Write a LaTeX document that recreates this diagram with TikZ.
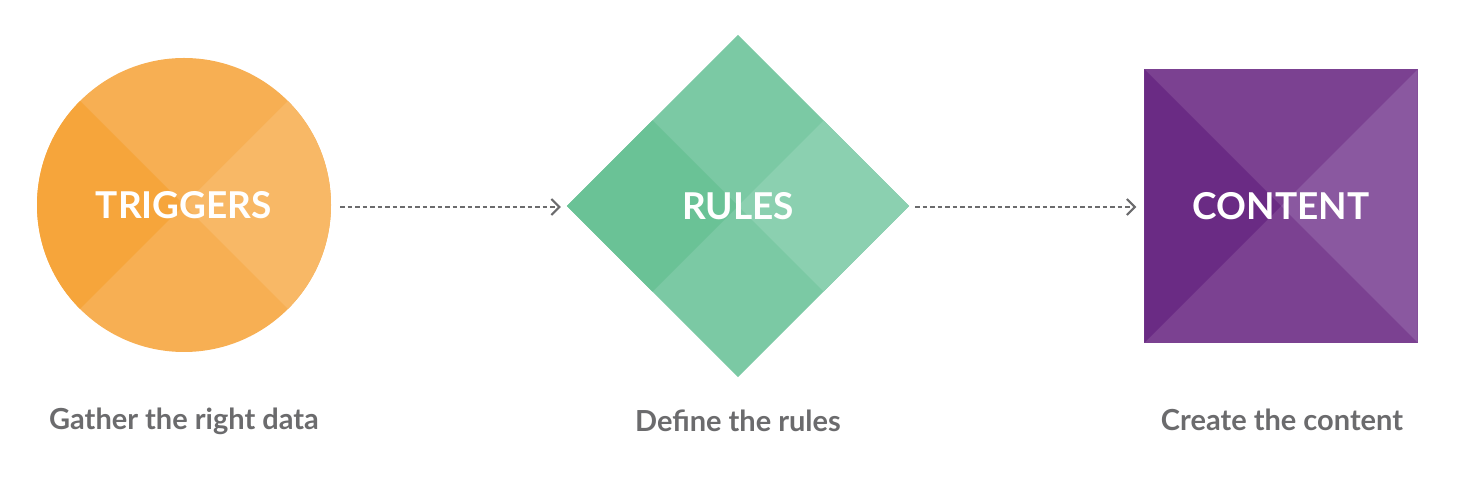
\documentclass[tikz,border=0pt]{standalone}
\usepackage{fontspec}
\setmainfont{Lato}
\usepackage{xcolor}
\definecolor{Orange Dark}{HTML}{F6A53B}
\definecolor{Orange Mid}{HTML}{F7AF53}
\definecolor{Orange Light}{HTML}{F8B866}
\definecolor{Green Dark}{HTML}{6AC296}
\definecolor{Green Mid}{HTML}{7BC9A4}
\definecolor{Green Light}{HTML}{8BD0B0}
\definecolor{Purple Dark}{HTML}{6A2B84}
\definecolor{Purple Mid}{HTML}{7B4191}
\definecolor{Purple Light}{HTML}{8A58A0}
\definecolor{Slate}{HTML}{6B6B6D}
\colorlet{cOrangeD}{Orange Dark}
\colorlet{cOrangeM}{Orange Mid}
\colorlet{cOrangeL}{Orange Light}
\colorlet{cGreenD}{Green Dark}
\colorlet{cGreenM}{Green Mid}
\colorlet{cGreenL}{Green Light}
\colorlet{cPurpleD}{Purple Dark}
\colorlet{cPurpleM}{Purple Mid}
\colorlet{cPurpleL}{Purple Light}
\colorlet{cGrey}{Slate}
\usepackage{tikz}
\usetikzlibrary{calc, positioning, arrows.meta, shapes.geometric, backgrounds}
\tikzset{
	shape label/.style={
		text=white,
		font=\fontsize{37}{41}\selectfont\bfseries,
		inner sep=0pt
	},
	caption/.style={
		text=cGrey,
		font=\fontsize{29}{33}\selectfont\bfseries,
		anchor=base,
		inner sep=0pt
	},
	flow/.style={
		draw=cGrey,
		line width=1.6pt,
		dash pattern=on 4.5pt off 3pt,
		-{Straight Barb[length=8pt, width=16pt, line width=2pt]}
	}
}

\begin{document}
\begin{tikzpicture}[x=1pt, y=1pt]
\useasboundingbox (0,0) rectangle (1458,492);
% ---
% shapes
% ---
\node[shape label, circle, minimum size=294pt] at (184,287) (triggers) {TRIGGERS};
\node[shape label, diamond, aspect=1, minimum width=342pt, minimum height=342pt] at (738,286) (rules) {RULES};
\node[shape label, rectangle, minimum size=273pt] at (1281,286) (content) {CONTENT};

\begin{scope}[on background layer]
\fill[cOrangeM] (triggers.center) circle (147);
\fill[cOrangeD] (triggers.center) -- ++(135:147) arc[start angle=135, end angle=225, radius=147] -- cycle;
\fill[cOrangeL] (triggers.center) -- ++(-45:147) arc[start angle=-45, end angle=45, radius=147] -- cycle;

\fill[cGreenM] (rules.north) -- (rules.east) -- (rules.south) -- (rules.west) -- cycle;
\fill[cGreenD] (rules.west) -- ($(rules.west)!.5!(rules.north)$) -- (rules.center) -- ($(rules.west)!.5!(rules.south)$) -- cycle;
\fill[cGreenL] (rules.east) -- ($(rules.east)!.5!(rules.north)$) -- (rules.center) -- ($(rules.east)!.5!(rules.south)$) -- cycle;

\fill[cPurpleM] (content.north west) rectangle (content.south east);
\fill[cPurpleD] (content.north west) -- (content.center) -- (content.south west) -- cycle;
\fill[cPurpleL] (content.north east) -- (content.center) -- (content.south east) -- cycle;
\end{scope}

% ---
% captions
% ---
\node[caption] at (184,62) (gather) {Gather the right data};
\node[caption] at (738,60) (define) {Define the rules};
\node[caption] at (1282,61) (create) {Create the content};

\draw[flow, shorten <=9pt, shorten >=6pt] (triggers.east |- 0,285) -- (rules.west |- 0,285);
\draw[flow, shorten <=6pt, shorten >=8pt] (rules.east |- 0,285) -- (content.west |- 0,285);
\end{tikzpicture}
\end{document}
